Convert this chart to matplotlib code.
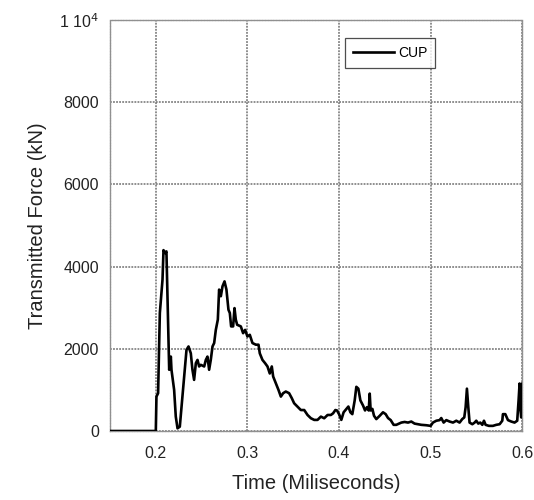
import matplotlib
matplotlib.use("Agg")
import matplotlib.pyplot as plt
from matplotlib.ticker import FixedLocator

plt.rcParams['font.family'] = ['Liberation Sans', 'DejaVu Sans']

# Transmitted force history for the CUP specimen
time_ms = [0.150, 0.2000, 0.2007, 0.2025, 0.2044, 0.2073, 0.2084, 0.2102, 0.2116,
           0.2124, 0.2146, 0.2164, 0.2171, 0.2200, 0.2218, 0.2237, 0.2262, 0.2291,
           0.2317, 0.2335, 0.2357, 0.2382, 0.2400, 0.2418, 0.2437, 0.2455, 0.2473,
           0.2491, 0.2528, 0.2546, 0.2564, 0.2582, 0.2600, 0.2619, 0.2637, 0.2655,
           0.2677, 0.2691, 0.2710, 0.2728, 0.2750, 0.2771, 0.2793, 0.2808, 0.2822,
           0.2844, 0.2859, 0.2873, 0.2888, 0.2928, 0.2953, 0.2975, 0.3000, 0.3026,
           0.3055, 0.3092, 0.3121, 0.3135, 0.3164, 0.3193, 0.3219, 0.3244, 0.3266,
           0.3281, 0.3310, 0.3339, 0.3365, 0.3390, 0.3419, 0.3455, 0.3484, 0.3510,
           0.3547, 0.3583, 0.3620, 0.3656, 0.3693, 0.3729, 0.3765, 0.3802, 0.3838,
           0.3875, 0.3911, 0.3935, 0.3960, 0.3978, 0.4000, 0.4025, 0.4050, 0.4080,
           0.4102, 0.4124, 0.4145, 0.4171, 0.4189, 0.4211, 0.4233, 0.4262, 0.4284,
           0.4305, 0.4324, 0.4335, 0.4345, 0.4364, 0.4382, 0.4407, 0.4444, 0.4480,
           0.4509, 0.4535, 0.4564, 0.4596, 0.4625, 0.4680, 0.4716, 0.4753, 0.4789,
           0.4825, 0.4862, 0.4898, 0.4953, 0.5000, 0.5025, 0.5062, 0.5098, 0.5116,
           0.5142, 0.5171, 0.5207, 0.5244, 0.5280, 0.5316, 0.5345, 0.5367, 0.5382,
           0.5396, 0.5411, 0.5425, 0.5455, 0.5480, 0.5498, 0.5520, 0.5542, 0.5564,
           0.5582, 0.5600, 0.5636, 0.5680, 0.5716, 0.5753, 0.5782, 0.5789, 0.5815,
           0.5844, 0.5880, 0.5916, 0.5945, 0.5960, 0.5971, 0.5978, 0.5989, 0.5996,
           0.6000]
force_kN = [0, 0, 837, 920, 2870, 3680, 4400, 4330, 4370,
            3600, 1490, 1810, 1490, 1000, 350, 65, 106, 837,
            1490, 1975, 2057, 1890, 1490, 1244, 1650, 1730, 1570,
            1610, 1570, 1730, 1810, 1490, 1730, 2057, 2140, 2460,
            2710, 3440, 3280, 3520, 3640, 3440, 2950, 2870, 2545,
            2545, 2990, 2710, 2585, 2545, 2380, 2460, 2300, 2340,
            2140, 2100, 2100, 1890, 1730, 1650, 1570, 1400, 1570,
            1325, 1160, 1000, 837, 920, 960, 920, 800, 675,
            590, 510, 510, 390, 310, 270, 270, 350, 310,
            390, 390, 430, 510, 500, 410, 270, 455, 537,
            595, 455, 410, 745, 1075, 1030, 745, 620, 500,
            580, 500, 910, 500, 537, 370, 290, 370, 455,
            410, 315, 265, 150, 150, 205, 220, 205, 230,
            180, 165, 150, 140, 125, 205, 250, 265, 315,
            205, 265, 230, 205, 250, 205, 290, 330, 580,
            1030, 580, 205, 165, 205, 250, 180, 205, 150,
            250, 150, 125, 125, 150, 165, 250, 410, 410,
            265, 230, 205, 250, 745, 1155, 580, 330, 900,
            1150]

x_ticks = [0.2, 0.3, 0.4, 0.5, 0.6]
y_ticks = [0, 2000, 4000, 6000, 8000, 10000]
y_tick_labels = ['0', '2000', '4000', '6000', '8000', '1 10$^4$']

fig = plt.figure(figsize=(5.34, 5.0), dpi=100)
ax = fig.add_axes([0.206, 0.138, 0.772, 0.822])

ax.plot(time_ms, force_kN, color='black', lw=1.9, label='CUP', zorder=3)

ax.set_xlim(0.15, 0.6)
ax.set_ylim(0, 10000)
ax.xaxis.set_major_locator(FixedLocator(x_ticks))
ax.yaxis.set_major_locator(FixedLocator(y_ticks))
ax.set_xticklabels([f'{v:g}' for v in x_ticks])
ax.set_yticklabels(y_tick_labels)

ax.grid(True, color='#707070', linestyle=(0, (1.2, 0.8)), linewidth=1.1, zorder=1)
for s in ax.spines.values():
    s.set_color('#909090')
    s.set_linewidth(1.0)
    s.set_linestyle((0, (1.2, 0.8)))

ax.tick_params(axis='both', length=0, labelsize=11.5, colors='#222222')
ax.tick_params(axis='x', pad=11)
ax.tick_params(axis='y', pad=8)

ax.set_xlabel('Time (Miliseconds)', fontsize=14.5, color='#222222', labelpad=9)
ax.set_ylabel('Transmitted Force (kN)', fontsize=14.5, color='#222222', labelpad=9)

leg = ax.legend(loc='upper left', bbox_to_anchor=(0.57, 0.955), fontsize=10,
                frameon=True, fancybox=False, handlelength=3.0, handletextpad=0.3,
                borderpad=0.55, borderaxespad=0)
leg.get_frame().set_edgecolor('#222222')
leg.get_frame().set_linewidth(0.9)

fig.savefig('out.png', dpi=100)
